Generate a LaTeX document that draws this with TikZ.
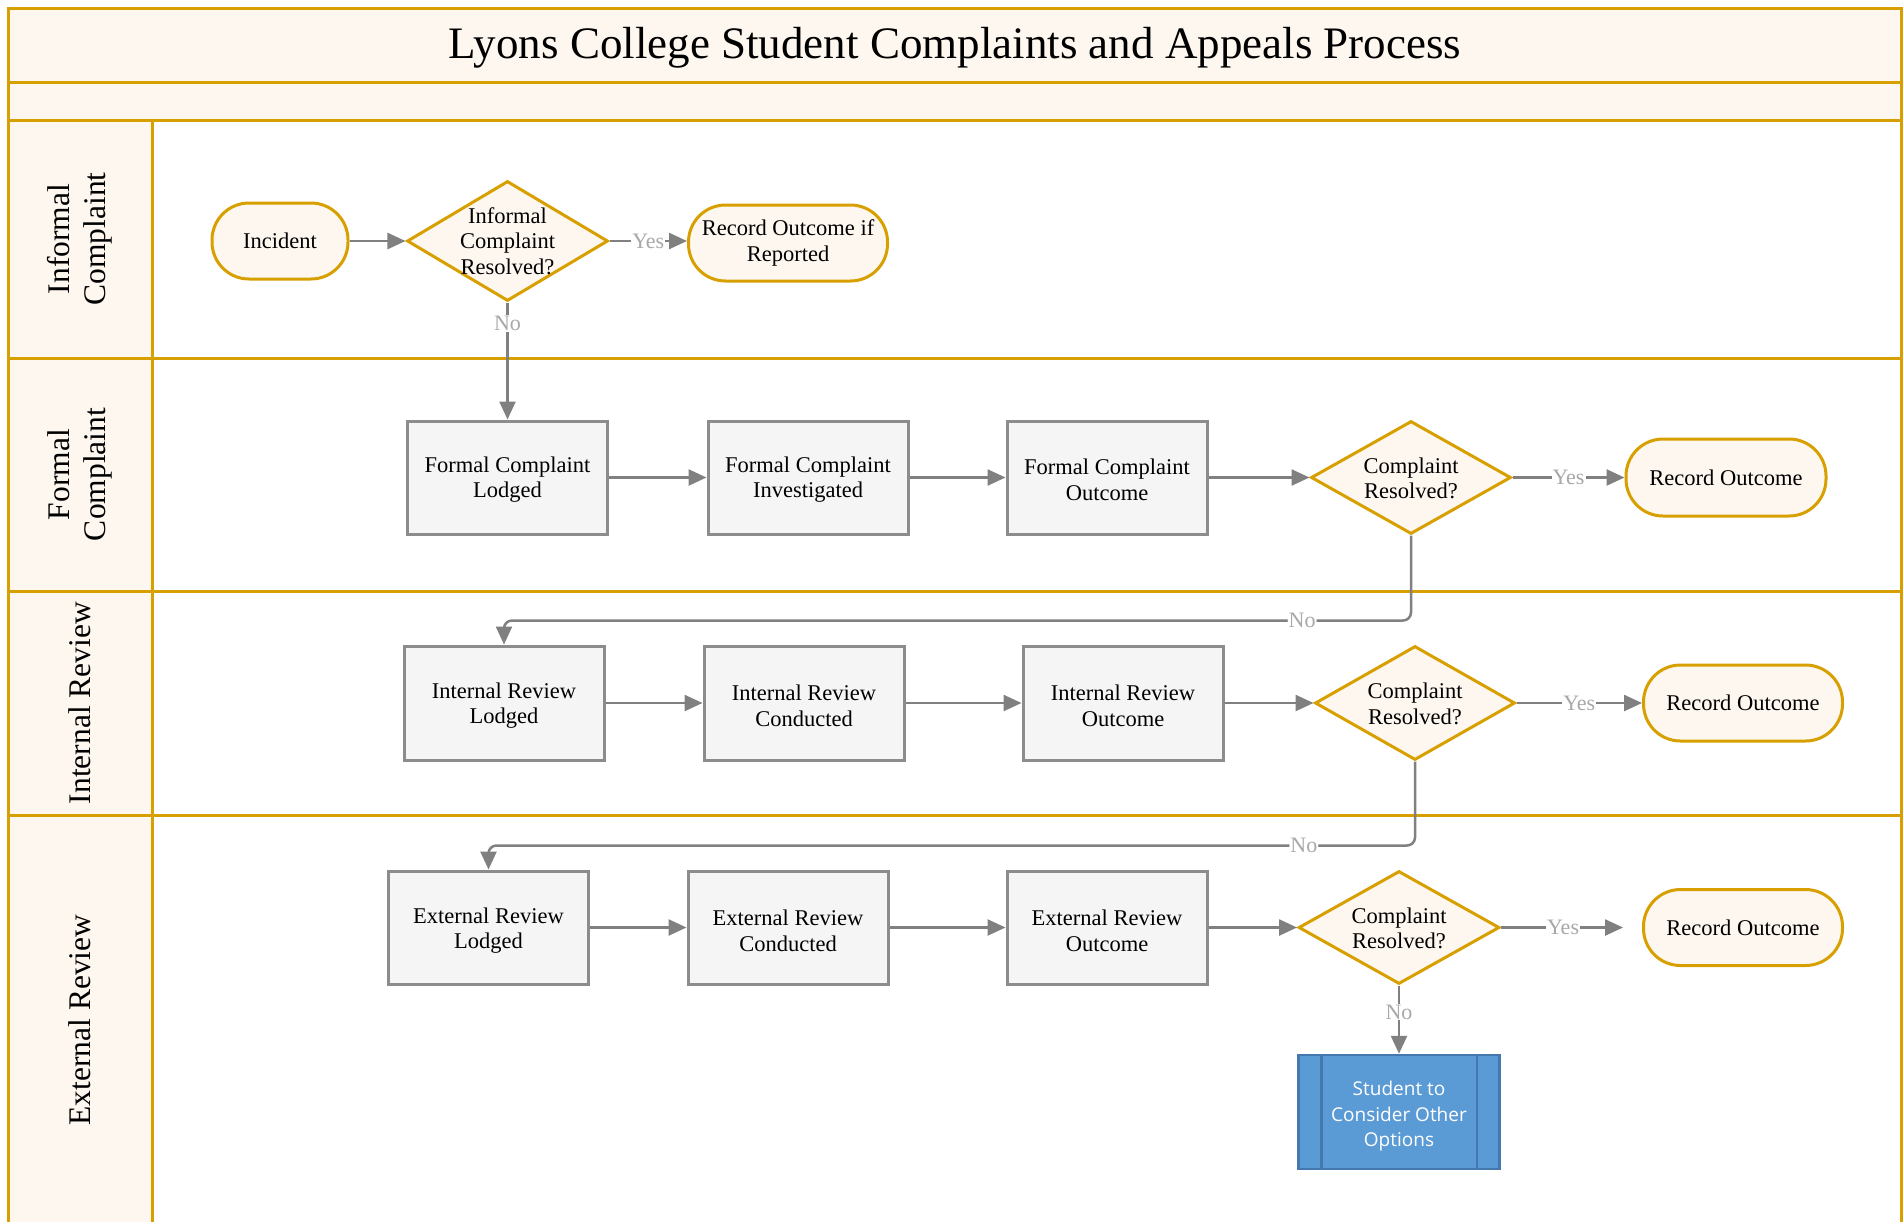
\documentclass[tikz,border=0pt]{standalone}
\usepackage{fontspec}
\setmainfont{Liberation Serif}
\newfontfamily\sansf{Open Sans}
\usetikzlibrary{arrows.meta,shapes.geometric}
\definecolor{gold}{RGB}{215,160,0}
\definecolor{cream}{RGB}{254,247,240}
\definecolor{rectfill}{RGB}{245,245,245}
\definecolor{rectgray}{RGB}{140,140,140}
\definecolor{flowgray}{RGB}{128,128,128}
\definecolor{lblgray}{RGB}{168,168,168}
\definecolor{bluefill}{RGB}{91,155,213}
\definecolor{bluedraw}{RGB}{68,121,176}
\newcommand\lowr[1]{\rule{0pt}{#1}}
\tikzset{
  lane/.style={draw=gold, line width=3pt},
  nodefont/.style={font=\fontsize{22.5}{25.5}\selectfont},
  proc/.style={rectangle, draw=rectgray, fill=rectfill, line width=3pt,
    minimum width=200pt, minimum height=113pt, align=center, inner sep=0pt, nodefont},
  term/.style={rectangle, rounded corners=37pt, draw=gold, fill=cream, line width=3pt,
    minimum width=199pt, minimum height=76pt, align=center, inner sep=0pt, nodefont},
  dec/.style={diamond, draw=gold, fill=cream, line width=3pt,
    minimum width=200pt, minimum height=113pt, inner sep=0pt},
  dectxt/.style={align=center, nodefont},
  subproc/.style={rectangle, draw=bluedraw, fill=bluefill, line width=2.5pt,
    minimum width=201pt, minimum height=114pt, align=center, inner sep=0pt,
    text=white, font=\sansf\fontsize{19}{25.5}\selectfont},
  flow/.style={draw=flowgray, line width=2.5pt, -{Triangle[length=18pt,width=16pt]}},
  lbl/.style={fill=white, text=lblgray, inner sep=1pt, font=\fontsize{22}{26}\selectfont},
  lanetxt/.style={rotate=90, align=center, font=\fontsize{31.5}{36}\selectfont}
}
\begin{document}
\begin{tikzpicture}[x=1pt,y=-1pt]
\useasboundingbox (0,0) rectangle (1903,1221);
% backgrounds
\fill[cream] (8,8) rectangle (1901,120);
\fill[cream] (8,120) rectangle (152,1240);
% frame and lanes
\draw[lane] (8,1240) -- (8,8) -- (1901,8) -- (1901,1240);
\draw[lane] (8,82.5) -- (1901,82.5);
\draw[lane] (8,120) -- (1901,120);
\draw[lane] (152,120) -- (152,1240);
\draw[lane] (8,358) -- (1901,358);
\draw[lane] (8,591) -- (1901,591);
\draw[lane] (8,815.5) -- (1901,815.5);
% titles
\node[font=\fontsize{45}{52}\selectfont] (title) at (955,47.5) {Lyons College Student Complaints and Appeals Process};
\node[lanetxt] (l1) at (80,239) {Informal\\Complaint};
\node[lanetxt] (l2) at (80,474.5) {Formal\\Complaint};
\node[lanetxt] (l3) at (80,703) {Internal Review};
\node[lanetxt] (l4) at (80,1020) {External Review};
% informal lane
\node[term, minimum width=136pt] (inc) at (280,241) {Incident};
\node[dec, minimum width=201pt, minimum height=120pt] (d0) at (507.5,241) {};
\node[dectxt] (d0t) at (d0.center) {Informal\\Complaint\\Resolved?};
\node[term] (ro0) at (788,243) {Record Outcome if\\Reported};
% formal lane
\node[proc] (f1) at (507.5,477.5) {\lowr{20pt}Formal Complaint\\Lodged};
\node[proc] (f2) at (808,477.5) {\lowr{20pt}Formal Complaint\\Investigated};
\node[proc] (f3) at (1107,477.5) {\lowr{20pt}Formal Complaint\\Outcome};
\node[dec] (d1) at (1411,477.5) {};
\node[dectxt] (d1t) at ([yshift=-1pt]d1.center) {Complaint\\Resolved?};
\node[term, minimum width=200pt, minimum height=77pt] (ro1) at (1726,477.5) {Record Outcome};
% internal lane
\node[proc, minimum height=114pt] (i1) at (504,703) {\lowr{21pt}Internal Review\\Lodged};
\node[proc, minimum height=114pt] (i2) at (804,703) {\lowr{21pt}Internal Review\\Conducted};
\node[proc, minimum height=114pt] (i3) at (1123,703) {\lowr{21pt}Internal Review\\Outcome};
\node[dec, minimum height=114pt] (d2) at (1415,703) {};
\node[dectxt] (d2t) at ([yshift=-1pt]d2.center) {Complaint\\Resolved?};
\node[term] (ro2) at (1743,703) {Record Outcome};
% external lane
\node[proc] (e1) at (488.5,927.5) {\lowr{22pt}External Review\\Lodged};
\node[proc] (e2) at (788,927.5) {\lowr{22pt}External Review\\Conducted};
\node[proc] (e3) at (1107,927.5) {\lowr{22pt}External Review\\Outcome};
\node[dec, minimum width=201pt] (d3) at (1399,927.5) {};
\node[dectxt] (d3t) at ([yshift=-1pt]d3.center) {Complaint\\Resolved?};
\node[term] (ro3) at (1743,927.5) {Record Outcome};
\node[subproc] (sc) at (1399,1112) {\lowr{23pt}Student to\\Consider Other\\Options};
\draw[draw=bluedraw, line width=2.5pt] ([xshift=24pt]sc.north west) -- ([xshift=24pt]sc.south west);
\draw[draw=bluedraw, line width=2.5pt] ([xshift=-24pt]sc.north east) -- ([xshift=-24pt]sc.south east);
% connectors
\draw[flow] (inc) -- (d0);
\draw[flow] (d0) -- node[lbl]{Yes} (ro0.west |- d0.east);
\draw[flow] (d0) -- node[lbl, pos=0.18]{No} (f1);
\draw[flow] (f1) -- (f2);
\draw[flow] (f2) -- (f3);
\draw[flow] (f3) -- (d1);
\draw[flow] (d1) -- node[lbl]{Yes} (ro1);
\draw[flow, rounded corners=8pt] (d1.south) -- ([yshift=-85pt]d1.south) -- node[lbl, pos=0.12]{No} ([yshift=-85pt]d1.south -| i1.north) -- (i1.north);
\draw[flow] (i1) -- (i2);
\draw[flow] (i2) -- (i3);
\draw[flow] (i3) -- (d2);
\draw[flow] (d2) -- node[lbl]{Yes} (ro2);
\draw[flow, rounded corners=8pt] (d2.south) -- ([yshift=-84pt]d2.south) -- node[lbl, pos=0.12]{No} ([yshift=-84pt]d2.south -| e1.north) -- (e1.north);
\draw[flow] (e1) -- (e2);
\draw[flow] (e2) -- (e3);
\draw[flow] (e3) -- (d3);
\draw[flow, shorten >=19pt] (d3) -- node[lbl, pos=0.44]{Yes} (ro3);
\draw[flow] (d3) -- node[lbl, pos=0.39]{No} (sc);
\end{tikzpicture}
\end{document}
